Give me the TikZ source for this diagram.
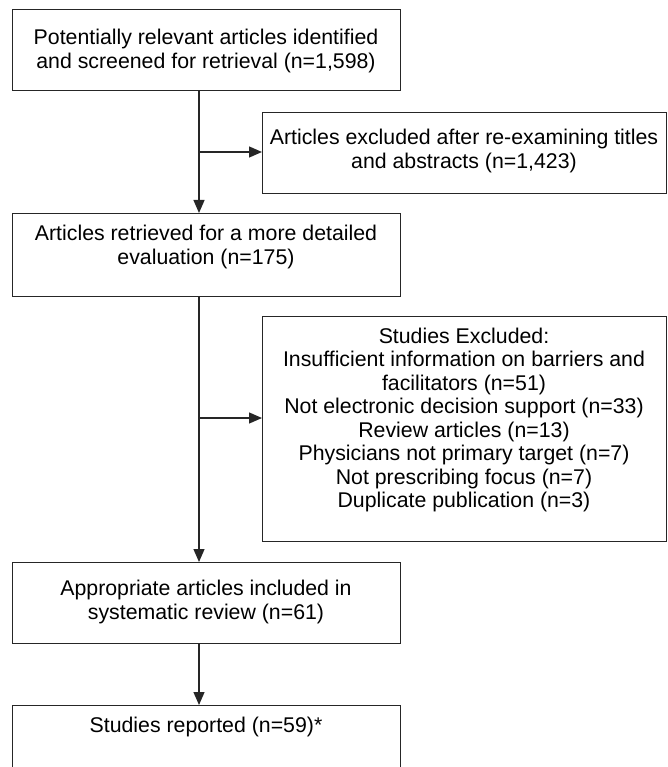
\documentclass[tikz,border=0pt]{standalone}
\usepackage{fontspec}
\setmainfont{Liberation Sans}
\usetikzlibrary{arrows.meta}
\begin{document}
\begin{tikzpicture}[x=1pt,y=-1pt,
  box/.style={draw=black!85, line width=1.3pt, inner sep=0pt, anchor=north west, minimum height=81pt},
  leftbox/.style={box, minimum width=388pt},
  rightbox/.style={box, minimum width=404pt},
  txt/.style={font=\fontsize{21.3}{23.5}\selectfont, align=center, inner sep=0pt, text=black},
  arr/.style={draw=black!85, line width=1.3pt, -{Triangle[length=13pt,width=11pt]}},
  conn/.style={draw=black!85, line width=1.3pt}]
\useasboundingbox (0,0) rectangle (668,767);
\clip (0,0) rectangle (668,767);
% boxes
\node[leftbox] (b1) at (12,9) {};
\node[rightbox] (b2) at (262,112) {};
\node[leftbox, minimum height=83pt] (b3) at (12,213) {};
\node[rightbox, minimum height=225pt] (b4) at (262,316) {};
\node[leftbox] (b5) at (12,562) {};
\node[leftbox, minimum height=100pt] (b6) at (12,705) {};
% texts
\node[txt] (t1) at (206,51) {Potentially relevant articles identified\\and screened for retrieval (n=1,598)};
\node[txt] (t2) at (464,151) {Articles excluded after re-examining titles\\and abstracts (n=1,423)};
\node[txt] (t3) at (206,247) {Articles retrieved for a more detailed\\evaluation (n=175)};
\node[txt] (t4) at (464,420) {Studies Excluded:\\Insufficient information on barriers and\\facilitators (n=51)\\Not electronic decision support (n=33)\\Review articles (n=13)\\Physicians not primary target (n=7)\\Not prescribing focus (n=7)\\Duplicate publication (n=3)};
\node[txt] (t5) at (206,602) {Appropriate articles included in\\systematic review (n=61)};
\node[txt] (t6) at (206,727) {Studies reported (n=59)*};
% connectors
\coordinate (k1) at (199,152);
\coordinate (k2) at (199,418);
\coordinate (k3) at (199,650);
\draw[arr] (k1 |- b1.south) -- (k1 |- b3.north);
\draw[arr] (k1) -- (k1 -| b2.west);
\draw[arr] (k2 |- b3.south) -- (k2 |- b5.north);
\draw[arr] (k2) -- (k2 -| b4.west);
\draw[arr] (k3 |- b5.south) -- (k3 |- b6.north);
\end{tikzpicture}
\end{document}
